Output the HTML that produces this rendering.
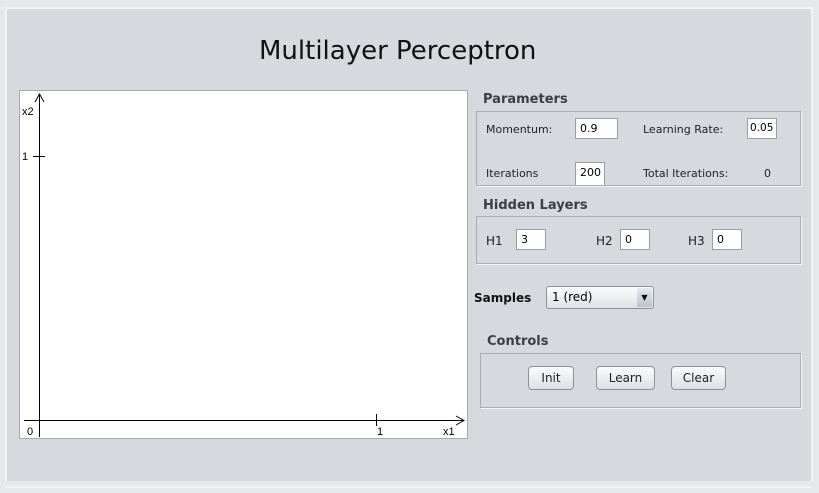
<!DOCTYPE html>
<html><head><style>
body{margin:0;width:819px;height:493px;background:#e6e8ec;position:relative;overflow:hidden;font-family:"DejaVu Sans","Liberation Sans",sans-serif;}
.a{position:absolute}
.frame{left:5px;top:7px;width:804px;height:472px;background:#d6d9de;border:2px solid #f2f3f5;border-bottom:none}
.box{position:absolute;border:1px solid #a9adb3;box-shadow:1px 1px 0 #f4f5f7}
.t{position:absolute;font-size:11px;color:#222}
.h{position:absolute;font-size:13px;font-weight:bold;color:#3a3f47}
.in{position:absolute;background:#fff;border:1px solid #9a9ea4;font-size:11px;padding-left:4px;box-sizing:border-box;line-height:19px;height:21px}
.btn{position:absolute;height:24px;border:1px solid #8d9198;border-radius:4px;background:linear-gradient(#fafbfc,#dde0e5);font-size:12px;text-align:center;line-height:23px;color:#222;box-sizing:border-box}
</style></head><body>
<div class="a frame"></div>
<div class="a" style="left:5px;top:486px;width:806px;height:2px;background:#f2f3f5"></div>
<div class="a" style="left:259px;top:36px;white-space:nowrap;font-size:26px;color:#111;font-family:'DejaVu Sans',sans-serif">Multilayer Perceptron</div>
<svg class="a" style="left:19px;top:90px" width="449" height="349">
<rect x="0.5" y="0.5" width="448" height="348" fill="#fff" stroke="#a6a9ae"/>
<line x1="20.5" y1="5" x2="20.5" y2="347" stroke="#000"/>
<polyline points="16,12 20.5,4 25,12" fill="none" stroke="#000"/>
<line x1="5" y1="330.5" x2="445" y2="330.5" stroke="#000"/>
<polyline points="437,326 445,330.5 437,335" fill="none" stroke="#000"/>
<line x1="14" y1="66.5" x2="26" y2="66.5" stroke="#000"/>
<line x1="357.5" y1="324" x2="357.5" y2="336" stroke="#000"/>
<text x="3" y="25" font-size="11" font-family="Liberation Sans,sans-serif">x2</text>
<text x="3" y="70" font-size="11" font-family="Liberation Sans,sans-serif">1</text>
<text x="8" y="345" font-size="11" font-family="Liberation Sans,sans-serif">0</text>
<text x="358" y="345" font-size="11" font-family="Liberation Sans,sans-serif">1</text>
<text x="424" y="345" font-size="11" font-family="Liberation Sans,sans-serif">x1</text>
</svg>
<div class="h" style="left:483px;top:92px">Parameters</div>
<div class="box" style="left:476px;top:111px;width:323px;height:73px"></div>
<div class="t" style="left:486px;top:123px">Momentum:</div>
<div class="in" style="left:575px;top:118px;width:43px">0.9</div>
<div class="t" style="left:643px;top:123px">Learning Rate:</div>
<div class="in" style="left:747px;top:118px;width:30px;padding-left:2px;font-size:10.5px">0.05</div>
<div class="t" style="left:486px;top:167px">Iterations</div>
<div class="in" style="left:575px;top:162px;width:30px;height:23px;border-bottom:none">200</div>
<div class="t" style="left:643px;top:167px">Total Iterations:</div>
<div class="t" style="left:764px;top:167px">0</div>
<div class="h" style="left:483px;top:198px">Hidden Layers</div>
<div class="box" style="left:476px;top:216px;width:323px;height:46px"></div>
<div class="t" style="left:486px;top:234px;font-size:12px">H1</div>
<div class="in" style="left:516px;top:229px;width:30px">3</div>
<div class="t" style="left:596px;top:234px;font-size:12px">H2</div>
<div class="in" style="left:620px;top:229px;width:30px">0</div>
<div class="t" style="left:688px;top:234px;font-size:12px">H3</div>
<div class="in" style="left:712px;top:229px;width:30px">0</div>
<div class="h" style="left:474px;top:291px;color:#111;font-size:12px">Samples</div>
<div class="a" style="left:546px;top:286px;width:108px;height:23px;border:1px solid #8d9198;border-radius:3px;background:linear-gradient(#fafbfc,#dfe2e6);box-sizing:border-box;font-size:12px;line-height:21px;padding-left:5px">1 (red)</div>
<div class="a" style="left:637px;top:288px;width:15px;height:19px;background:linear-gradient(#e6eaf0,#b9c2cd);font-size:8px;text-align:center;line-height:19px">▼</div>
<div class="h" style="left:487px;top:334px">Controls</div>
<div class="box" style="left:480px;top:353px;width:319px;height:53px"></div>
<div class="btn" style="left:528px;top:366px;width:46px">Init</div>
<div class="btn" style="left:596px;top:366px;width:59px">Learn</div>
<div class="btn" style="left:671px;top:366px;width:55px">Clear</div>
</body></html>
